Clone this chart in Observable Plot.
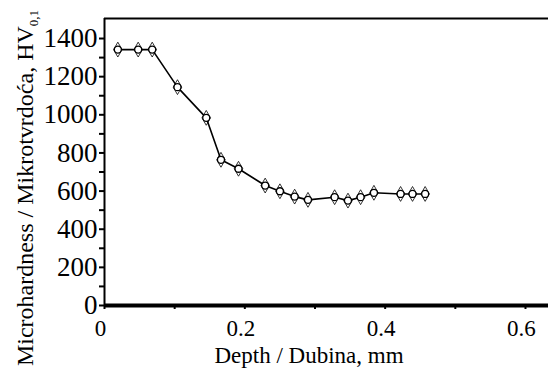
<!DOCTYPE html>
<html>
<head>
<meta charset="utf-8">
<script src="https://cdn.jsdelivr.net/npm/d3@7"></script>
<script src="https://cdn.jsdelivr.net/npm/@observablehq/plot@0.6"></script>
<style>
  html, body { margin: 0; padding: 0; background: #fff; }
  svg { display: block; }
  svg text { font-family: "Liberation Serif", "DejaVu Serif", serif !important; }
</style>
</head>
<body>
<div id="chart"></div>
<script>
// Depth, mm
const depth = [0.019, 0.048, 0.068, 0.104, 0.145, 0.166, 0.191, 0.229, 0.25, 0.271, 0.29, 0.328, 0.347, 0.365, 0.384, 0.422, 0.439, 0.457];
// Microhardness HV0,1
const hardness = [1342, 1342, 1342, 1145, 984, 764, 717, 629, 599, 571, 554, 568, 550, 568, 591, 585, 585, 585];
const xTickLabels = [0, 0.2, 0.4, 0.6];
const xTicks = [0, 0.1, 0.2, 0.3, 0.4, 0.5, 0.6];
const yTickLabels = [0, 200, 400, 600, 800, 1000, 1200, 1400];
const yTicks = [0, 100, 200, 300, 400, 500, 600, 700, 800, 900, 1000, 1100, 1200, 1300, 1400];

const data = depth.map((d, i) => ({depth: d, hv: hardness[i]}));

const font = "Liberation Serif, DejaVu Serif, serif";

const chart = Plot.plot({
  width: 548,
  height: 369,
  marginLeft: 104,
  marginRight: 0,
  marginTop: 18,
  marginBottom: 64,
  style: {fontFamily: font, color: "#000", background: "#fff"},
  x: {domain: [0, 0.6328]},
  y: {domain: [0, 1505]},
  marks: [
    Plot.axisX({ticks: xTicks, tickSize: 4, strokeWidth: 2, tickFormat: () => "", label: null}),
    Plot.axisX({ticks: xTickLabels, tickSize: 0, tickPadding: 14, fontSize: 23, dx: -4, tickFormat: d => String(d), label: null}),
    Plot.axisY({ticks: yTicks, tickSize: 5, strokeWidth: 2, tickFormat: () => "", label: null}),
    Plot.axisY({ticks: yTickLabels, tickSize: 0, tickPadding: 7, fontSize: 27, tickFormat: d => String(d), label: null}),
    Plot.ruleY([1505], {stroke: "#000", strokeWidth: 2}),
    Plot.ruleX([0], {stroke: "#000", strokeWidth: 2}),
    Plot.ruleY([0], {stroke: "#000", strokeWidth: 4}),
    Plot.line(data, {x: "depth", y: "hv", stroke: "#000", strokeWidth: 1.6}),
    Plot.dot(data, {x: "depth", y: "hv", symbol: "circle", r: 3.5, fill: "#fff", stroke: "#000", strokeWidth: 1.3}),
    Plot.dot(data, {x: "depth", y: "hv", symbol: "diamond", r: 4.5, fill: "none", stroke: "#000", strokeWidth: 0.8})
  ]
});

const svg = d3.select(chart);
// x axis title
svg.append("text")
  .attr("x", 309).attr("y", 363)
  .attr("text-anchor", "middle")
  .attr("font-family", font)
  .attr("font-size", 23)
  .attr("fill", "#000")
  .text("Depth / Dubina, mm");
// y axis title with subscript
const yt = svg.append("text")
  .attr("transform", "translate(33,188) rotate(-90)")
  .attr("text-anchor", "middle")
  .attr("font-family", font)
  .attr("font-size", 24)
  .attr("fill", "#000");
yt.append("tspan").text("Microhardness / Mikrotvrdoća, HV");
yt.append("tspan").attr("font-size", 13).attr("dy", 5).text("0,1");

document.getElementById("chart").appendChild(chart);
</script>
</body>
</html>
